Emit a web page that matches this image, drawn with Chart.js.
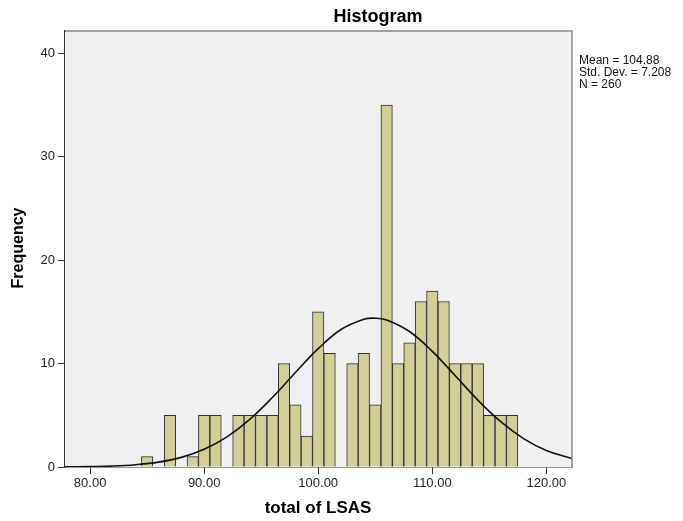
<!DOCTYPE html>
<html>
<head>
<meta charset="utf-8">
<script src="https://cdn.jsdelivr.net/npm/chart.js@4.4.1/dist/chart.umd.min.js"></script>
<style>
  html, body { margin: 0; padding: 0; background: #fff; }
</style>
</head>
<body>
<canvas id="histChart" width="683" height="521"></canvas>
<script>
// bin centres (width 1) and counts
const binCenters = [85, 86, 87, 88, 89, 90, 91, 92, 93, 94, 95, 96, 97, 98, 99, 100,
                    101, 102, 103, 104, 105, 106, 107, 108, 109, 110, 111, 112, 113, 114, 115, 116, 117];
const frequencies = [1, 0, 5, 0, 1, 5, 5, 0, 5, 5, 5, 5, 10, 6, 3, 15,
                     11, 0, 10, 11, 6, 35, 10, 12, 16, 17, 16, 10, 10, 10, 5, 5, 5];

// normal curve
const curveX = [77.8, 80, 82, 84, 86, 88, 90, 92, 94, 96, 98, 100, 102, 104, 104.88,
                106, 108, 110, 112, 114, 116, 118, 120, 122.25];
const curveY = [0.01, 0.04, 0.09, 0.22, 0.47, 0.93, 1.71, 2.91, 4.6, 6.74, 9.13, 11.44, 13.29, 14.28, 14.39,
                14.22, 13.1, 11.18, 8.84, 6.46, 4.38, 2.75, 1.6, 0.82];

const xTicks = [80, 90, 100, 110, 120];
const yTicks = [0, 10, 20, 30, 40];
const statsLines = ['Mean = 104.88', 'Std. Dev. = 7.208', 'N = 260'];

const FONT = '"Liberation Sans", Arial, sans-serif';

const barPoints = binCenters
    .map((x, i) => ({ x: x, y: frequencies[i] }))
    .filter(p => p.y > 0);
const curvePoints = curveX.map((x, i) => ({ x: x, y: curveY[i] }));

const decorations = {
    id: 'decorations',
    beforeDatasetsDraw(chart) {
        const { ctx, chartArea: a } = chart;
        ctx.save();
        ctx.fillStyle = '#f0f0f0';
        ctx.fillRect(a.left, a.top, a.right - a.left, a.bottom - a.top);
        ctx.restore();
    },
    afterDraw(chart) {
        const { ctx, chartArea: a } = chart;
        ctx.save();
        // frame top / right
        ctx.strokeStyle = '#888';
        ctx.lineWidth = 1.5;
        ctx.beginPath();
        ctx.moveTo(a.left, a.top);
        ctx.lineTo(a.right, a.top);
        ctx.lineTo(a.right, a.bottom);
        ctx.stroke();

        ctx.fillStyle = '#000';
        ctx.textAlign = 'center';
        ctx.textBaseline = 'middle';
        ctx.font = 'bold 18px ' + FONT;
        ctx.fillText('Histogram', 378, 17);

        ctx.font = 'bold 17px ' + FONT;
        ctx.fillText('total of LSAS', 318, 508);

        ctx.save();
        ctx.translate(19, 248);
        ctx.rotate(-Math.PI / 2);
        ctx.font = 'bold 16px ' + FONT;
        ctx.fillText('Frequency', 0, 0);
        ctx.restore();

        ctx.textAlign = 'left';
        ctx.font = '12px ' + FONT;
        ctx.fillStyle = '#111';
        statsLines.forEach((t, i) => ctx.fillText(t, 579, 61 + i * 12));
        ctx.restore();
    }
};

new Chart(document.getElementById('histChart'), {
    type: 'bar',
    data: {
        datasets: [{
            type: 'line',
            data: curvePoints,
            borderColor: '#111',
            borderWidth: 1.6,
            pointRadius: 0,
            tension: 0.4,
            fill: false,
            order: 0
        }, {
            type: 'bar',
            data: barPoints,
            backgroundColor: '#d3ce97',
            borderColor: '#2e2e2e',
            borderWidth: 1,
            barPercentage: 1,
            categoryPercentage: 1,
            grouped: false,
            order: 1
        }]
    },
    options: {
        responsive: false,
        animation: false,
        devicePixelRatio: 1,
        layout: { padding: { top: 31, right: 111, left: 0, bottom: 0 } },
        plugins: {
            legend: { display: false },
            tooltip: { enabled: false },
            title: { display: false }
        },
        scales: {
            x: {
                type: 'linear',
                min: 77.8,
                max: 122.25,
                offset: false,
                afterBuildTicks: s => { s.ticks = xTicks.map(v => ({ value: v })); },
                afterFit: s => { s.height = 54; },
                ticks: {
                    callback: v => v.toFixed(2),
                    font: { family: FONT, size: 13 },
                    color: '#222',
                    padding: 2,
                    maxRotation: 0,
                    autoSkip: false
                },
                grid: { drawOnChartArea: false, offset: false, tickLength: 7, color: '#333' },
                border: { color: '#333', width: 1.5 }
            },
            y: {
                min: 0,
                max: 42.15,
                afterBuildTicks: s => { s.ticks = yTicks.map(v => ({ value: v })); },
                afterFit: s => { s.width = 65; },
                ticks: {
                    font: { family: FONT, size: 13 },
                    color: '#222',
                    padding: 3
                },
                grid: { drawOnChartArea: false, tickLength: 7, color: '#333' },
                border: { color: '#333', width: 1.5 }
            }
        }
    },
    plugins: [decorations]
});
</script>
</body>
</html>
